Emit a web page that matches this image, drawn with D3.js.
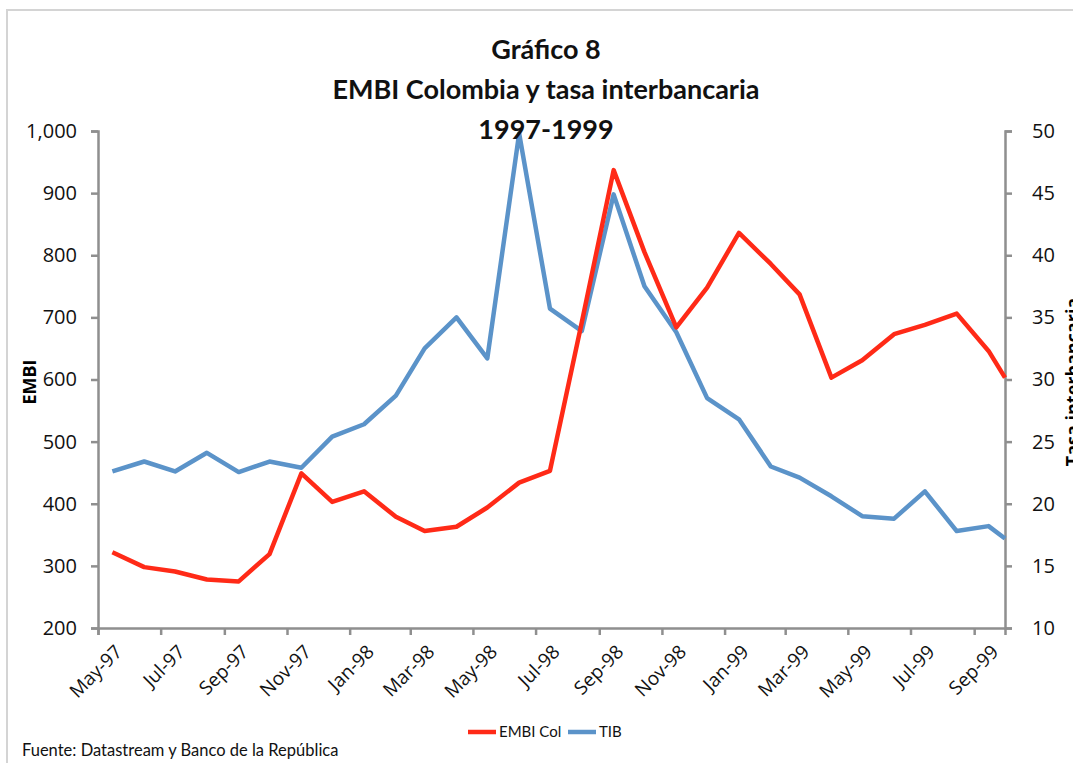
<!DOCTYPE html>
<html>
<head>
<meta charset="utf-8">
<script src="https://cdn.jsdelivr.net/npm/d3@7"></script>
<style>
  body { margin: 0; background: #fff; }
  svg { display: block; }
</style>
</head>
<body>
<div id="display"></div>
<script>
var width = 1073,
    height = 763;

// monthly observations, last one at end of September 1999
var dates = ["1997-05-15", "1997-06-15", "1997-07-15", "1997-08-15", "1997-09-15", "1997-10-15",
    "1997-11-15", "1997-12-15", "1998-01-15", "1998-02-15", "1998-03-15", "1998-04-15",
    "1998-05-15", "1998-06-15", "1998-07-15", "1998-08-15", "1998-09-15", "1998-10-15",
    "1998-11-15", "1998-12-15", "1999-01-15", "1999-02-15", "1999-03-15", "1999-04-15",
    "1999-05-15", "1999-06-15", "1999-07-15", "1999-08-15", "1999-09-15", "1999-10-01"];

var embi = [322, 298, 291, 278, 275, 319, 449, 403, 420, 379, 356, 363, 394, 434, 453,
    692, 937, 805, 684, 748, 836, 786, 737, 603, 631, 673, 688, 706, 646, 603];

var tib = [22.6, 23.4, 22.6, 24.1, 22.55, 23.4, 22.9, 25.4, 26.4, 28.7, 32.5, 35.0, 31.7, 49.8, 35.7,
    33.9, 44.9, 37.5, 33.8, 28.5, 26.8, 23.0, 22.1, 20.6, 19.0, 18.8, 21.0, 17.8, 18.2, 17.2];

var tickLabels = ["May-97", "Jul-97", "Sep-97", "Nov-97", "Jan-98", "Mar-98", "May-98", "Jul-98",
    "Sep-98", "Nov-98", "Jan-99", "Mar-99", "May-99", "Jul-99", "Sep-99"];

var leftTicks = [200, 300, 400, 500, 600, 700, 800, 900, 1000];
var rightTicks = [10, 15, 20, 25, 30, 35, 40, 45, 50];

var titleLines = ["Gráfico 8", "EMBI Colombia y tasa interbancaria", "1997-1999"];

var parse = d3.timeParse("%Y-%m-%d");
var data = dates.map(function (d, i) {
    return { date: parse(d), embi: embi[i], tib: tib[i] };
});

var plotLeft = 98, plotRight = 1005, plotTop = 131, plotBottom = 628;
var axisColor = "#8f8f8f";
var red = "#ff2a17", blue = "#5b93c9";

var svg = d3.select("#display")
    .append("svg")
    .attr("width", width)
    .attr("height", height);

// light frame
svg.append("rect")
    .attr("x", 7).attr("y", 10)
    .attr("width", width + 20).attr("height", height + 20)
    .attr("fill", "none")
    .attr("stroke", "#d4d4d4")
    .attr("stroke-width", 2);

var x = d3.scaleTime()
    .domain([parse("1997-05-01"), parse("1999-10-01")])
    .range([plotLeft, plotRight]);
var yL = d3.scaleLinear().domain([200, 1000]).range([plotBottom, plotTop]);
var yR = d3.scaleLinear().domain([10, 50]).range([plotBottom, plotTop]);

// left axis
var gL = svg.append("g")
    .attr("transform", "translate(" + plotLeft + ",0)")
    .call(d3.axisLeft(yL).tickValues(leftTicks).tickSize(7).tickPadding(14).tickFormat(d3.format(",")));

// right axis
var gR = svg.append("g")
    .attr("transform", "translate(" + plotRight + ",0)")
    .call(d3.axisRight(yR).tickValues(rightTicks).tickSize(7).tickPadding(20));

// bottom axis: ticks every two months, labels in the middle of the month
var tickDates = d3.timeMonth.every(2).range(parse("1997-05-01"), parse("1999-10-01"));
var gB = svg.append("g")
    .attr("transform", "translate(0," + plotBottom + ")")
    .call(d3.axisBottom(x).tickValues(tickDates).tickSize(7).tickFormat(""));

[gL, gR, gB].forEach(function (g) {
    g.select(".domain").attr("stroke", axisColor).attr("stroke-width", 2.5);
    g.selectAll(".tick line").attr("stroke", axisColor).attr("stroke-width", 2.5);
    g.selectAll("text")
        .attr("fill", "#111")
        .style("font-family", "'Open Sans', sans-serif")
        .style("font-size", "20px");
});

svg.append("g")
    .selectAll("text")
    .data(tickDates)
    .enter()
    .append("text")
    .attr("transform", function (d) {
        var xm = x(d3.timeDay.offset(d, 14));
        return "translate(" + (xm + 3) + "," + (plotBottom + 17) + ") rotate(-45)";
    })
    .attr("text-anchor", "end")
    .attr("dy", "0.6em")
    .style("font-family", "'Open Sans', sans-serif")
    .style("font-size", "19px")
    .attr("fill", "#111")
    .text(function (d, i) { return tickLabels[i]; });

// axis titles
svg.append("text")
    .attr("transform", "translate(36,382) rotate(-90)")
    .attr("text-anchor", "middle")
    .style("font-family", "'Open Sans', sans-serif")
    .style("font-weight", "bold")
    .style("font-size", "18px")
    .text("EMBI");

// right title runs past the edge, as in the original
svg.append("text")
    .attr("transform", "translate(1079,382) rotate(-90)")
    .attr("text-anchor", "middle")
    .style("font-family", "'Open Sans', sans-serif")
    .style("font-weight", "bold")
    .style("font-size", "18px")
    .text("Tasa interbancaria");

// lines
var lineEmbi = d3.line().x(d => x(d.date)).y(d => yL(d.embi));
var lineTib = d3.line().x(d => x(d.date)).y(d => yR(d.tib));

svg.append("path")
    .datum(data)
    .attr("d", lineTib)
    .attr("fill", "none")
    .attr("stroke", blue)
    .attr("stroke-width", 4.5)
    .attr("stroke-linejoin", "round");

svg.append("path")
    .datum(data)
    .attr("d", lineEmbi)
    .attr("fill", "none")
    .attr("stroke", red)
    .attr("stroke-width", 4.5)
    .attr("stroke-linejoin", "round");

// title
svg.append("g")
    .selectAll("text")
    .data(titleLines)
    .enter()
    .append("text")
    .attr("x", 546)
    .attr("y", (d, i) => 59 + i * 40)
    .attr("text-anchor", "middle")
    .style("font-family", "Lato, sans-serif")
    .style("font-weight", "bold")
    .style("font-size", "27px")
    .attr("fill", "#111")
    .text(d => d);

// legend
var legend = [{ name: "EMBI Col", color: red }, { name: "TIB", color: blue }];
var lx = [468, 568];
var lg = svg.append("g")
    .selectAll("g")
    .data(legend)
    .enter()
    .append("g")
    .attr("transform", (d, i) => "translate(" + lx[i] + ",732)");
lg.append("line")
    .attr("x1", 0).attr("x2", 28)
    .attr("stroke", d => d.color)
    .attr("stroke-width", 4.5);
lg.append("text")
    .attr("x", 31)
    .attr("dy", "0.35em")
    .style("font-family", "Lato, sans-serif")
    .style("font-size", "15px")
    .attr("fill", "#111")
    .text(d => d.name);

// source
svg.append("text")
    .attr("x", 22)
    .attr("y", 756)
    .style("font-family", "Lato, sans-serif")
    .style("font-size", "16.5px")
    .attr("fill", "#111")
    .text("Fuente: Datastream y Banco de la República");
</script>
</body>
</html>
